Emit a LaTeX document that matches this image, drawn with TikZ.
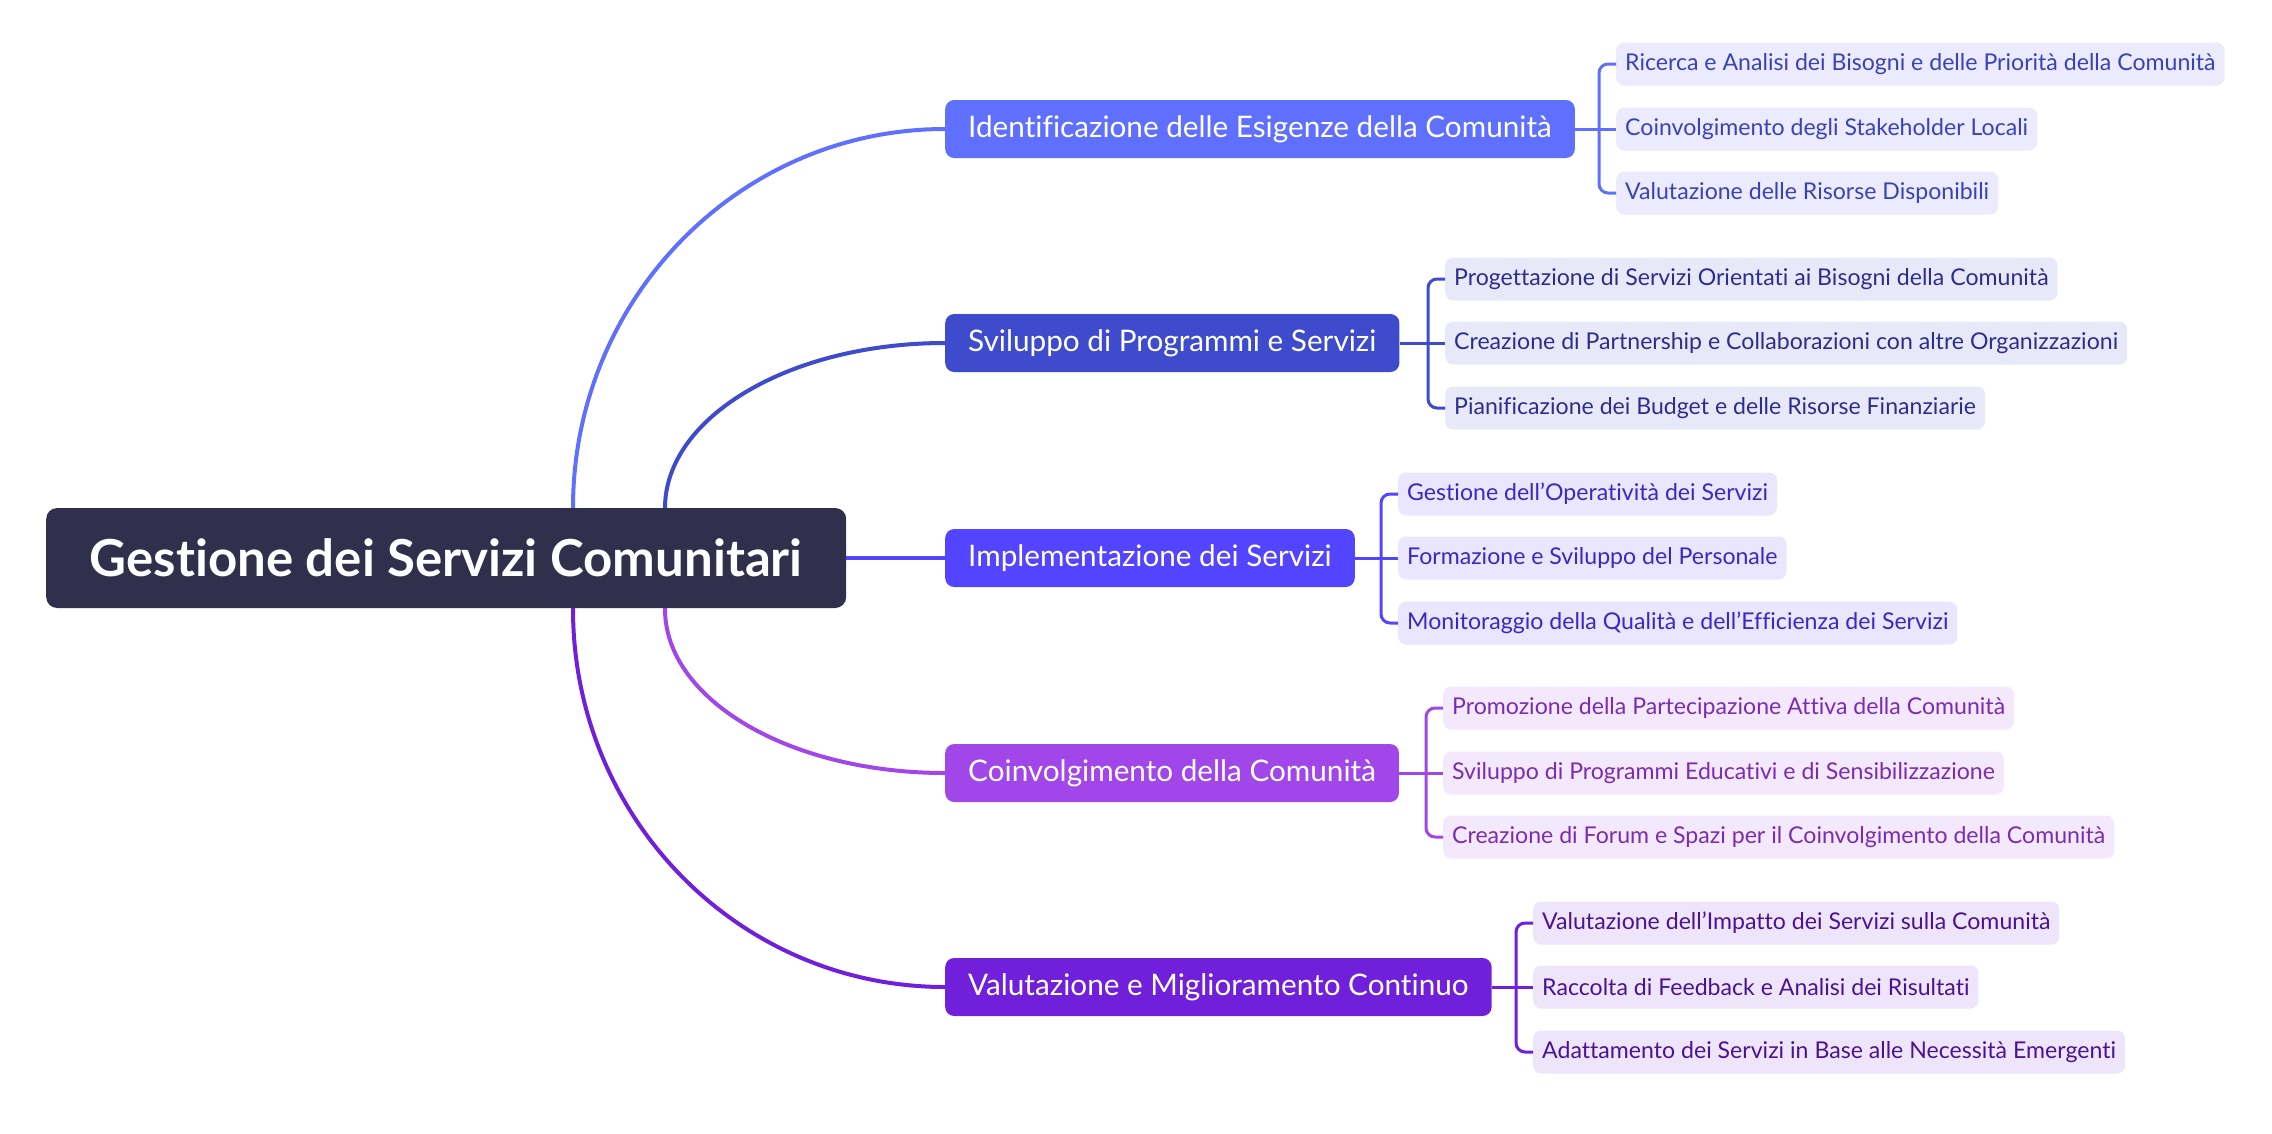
\documentclass[tikz,border=0pt]{standalone}
\usepackage{fontspec}
\setmainfont{Lato}[Ligatures={NoCommon}]
\definecolor{rootc}{HTML}{30304D}
\definecolor{bA}{HTML}{5F70FF}
\definecolor{bB}{HTML}{3D4BCC}
\definecolor{bC}{HTML}{5244FF}
\definecolor{bD}{HTML}{A146E8}
\definecolor{bE}{HTML}{701FDB}
\definecolor{fA}{HTML}{EBEBFD}
\definecolor{fB}{HTML}{E8E9F8}
\definecolor{fC}{HTML}{E9E6FD}
\definecolor{fD}{HTML}{F4E8FC}
\definecolor{fE}{HTML}{EEE5FB}
\definecolor{tA}{HTML}{3A42B8}
\definecolor{tB}{HTML}{2B2E8C}
\definecolor{tC}{HTML}{3B27C4}
\definecolor{tD}{HTML}{7A2DB0}
\definecolor{tE}{HTML}{4A1491}
\begin{document}
\begin{tikzpicture}[x=1pt,y=-1pt,
  rootbox/.style={fill=rootc, rounded corners=11pt, text=white, font=\fontsize{51}{58}\selectfont\bfseries, minimum height=100pt, minimum width=800pt, anchor=west, inner sep=0pt},
  branch/.style={fill=#1, rounded corners=9pt, text=white, font=\fontsize{29.7}{34}\selectfont, minimum height=58pt, inner xsep=23pt, anchor=west},
  leaf/.style 2 args={fill=#1, text=#2, rounded corners=8pt, font=\fontsize{23.1}{27}\selectfont, minimum height=43pt, inner xsep=9pt, anchor=west},
  mainline/.style={draw=#1, line width=4pt},
  subline/.style={draw=#1, line width=3pt, rounded corners=9pt}
]
\useasboundingbox (0,0) rectangle (2272,1133);

\coordinate (rA) at (573,540);
\coordinate (rB) at (665,540);
\coordinate (rD) at (665,580);
\coordinate (rE) at (573,580);

\node[branch=bA] (bA) at (945,129) {Identificazione delle Esigenze della Comunità};
\node[branch=bB] (bB) at (945,343) {Sviluppo di Programmi e Servizi};
\node[branch=bC] (bC) at (945,558) {Implementazione dei Servizi};
\node[branch=bD] (bD) at (945,773) {Coinvolgimento della Comunità};
\node[branch=bE] (bE) at (945,987) {Valutazione e Miglioramento Continuo};

\draw[mainline=bA] (rA) -- (573,508) .. controls (573,299) and (739,129) .. (bA.west);
\draw[mainline=bB] (rB) -- (665,508) .. controls (665,417) and (790,343) .. (bB.west);
\draw[mainline=bD] (rD) -- (665,609) .. controls (665,700) and (790,773) .. (bD.west);
\draw[mainline=bE] (rE) -- (573,609) .. controls (573,818) and (739,987) .. (bE.west);

\node[rootbox] (root) at (46,558) {Gestione dei Servizi Comunitari};
\draw[mainline=bC] (root.east) -- (bC.west);

% group A
\node[leaf={fA}{tA}] (lA1) at (1616,64) {Ricerca e Analisi dei Bisogni e delle Priorità della Comunità};
\node[leaf={fA}{tA}] (lA2) at (1616,129) {Coinvolgimento degli Stakeholder Locali};
\node[leaf={fA}{tA}] (lA3) at (1616,193) {Valutazione delle Risorse Disponibili};
\coordinate (kA) at (1599,129);
\draw[subline=bA] (bA.east) -- (lA2.west);
\draw[subline=bA] (lA1.west) -| (kA) |- (lA3.west);

% group B
\node[leaf={fB}{tB}] (lB1) at (1445,279) {Progettazione di Servizi Orientati ai Bisogni della Comunità};
\node[leaf={fB}{tB}] (lB2) at (1445,343) {Creazione di Partnership e Collaborazioni con altre Organizzazioni};
\node[leaf={fB}{tB}] (lB3) at (1445,408) {Pianificazione dei Budget e delle Risorse Finanziarie};
\coordinate (kB) at (1428,343);
\draw[subline=bB] (bB.east) -- (lB2.west);
\draw[subline=bB] (lB1.west) -| (kB) |- (lB3.west);

% group C
\node[leaf={fC}{tC}] (lC1) at (1398,494) {Gestione dell\symbol{39}Operatività dei Servizi};
\node[leaf={fC}{tC}] (lC2) at (1398,558) {Formazione e Sviluppo del Personale};
\node[leaf={fC}{tC}] (lC3) at (1398,623) {Monitoraggio della Qualità e dell\symbol{39}Efficienza dei Servizi};
\coordinate (kC) at (1381,558);
\draw[subline=bC] (bC.east) -- (lC2.west);
\draw[subline=bC] (lC1.west) -| (kC) |- (lC3.west);

% group D
\node[leaf={fD}{tD}] (lD1) at (1443,708) {Promozione della Partecipazione Attiva della Comunità};
\node[leaf={fD}{tD}] (lD2) at (1443,773) {Sviluppo di Programmi Educativi e di Sensibilizzazione};
\node[leaf={fD}{tD}] (lD3) at (1443,837) {Creazione di Forum e Spazi per il Coinvolgimento della Comunità};
\coordinate (kD) at (1426,773);
\draw[subline=bD] (bD.east) -- (lD2.west);
\draw[subline=bD] (lD1.west) -| (kD) |- (lD3.west);

% group E
\node[leaf={fE}{tE}] (lE1) at (1533,923) {Valutazione dell\symbol{39}Impatto dei Servizi sulla Comunità};
\node[leaf={fE}{tE}] (lE2) at (1533,987) {Raccolta di Feedback e Analisi dei Risultati};
\node[leaf={fE}{tE}] (lE3) at (1533,1052) {Adattamento dei Servizi in Base alle Necessità Emergenti};
\coordinate (kE) at (1516,987);
\draw[subline=bE] (bE.east) -- (lE2.west);
\draw[subline=bE] (lE1.west) -| (kE) |- (lE3.west);
\end{tikzpicture}
\end{document}
